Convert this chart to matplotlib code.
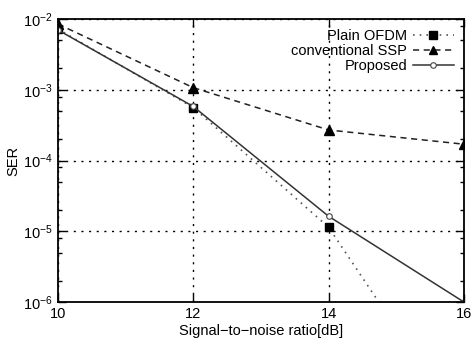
import matplotlib.pyplot as plt
from matplotlib.ticker import LogLocator, NullFormatter

plt.rcParams['font.family'] = ['Liberation Sans', 'DejaVu Sans']

snr = [10, 12, 14, 16]
ser_plain = [7.2e-3, 5.6e-4, 1.14e-5, 1.6e-8]
ser_ssp = [8.5e-3, 1.07e-3, 2.7e-4, 1.7e-4]
ser_proposed = [7.0e-3, 5.8e-4, 1.63e-5, 1.0e-6]
xticks = [10, 12, 14, 16]

fig = plt.figure(figsize=(4.71, 3.39), dpi=100)
ax = fig.add_axes([0.123, 0.109, 0.862, 0.835])

ax.semilogy(snr, ser_plain, linestyle=(0, (1, 3)), color='#555555', lw=1.2,
            marker='s', ms=6, mfc='black', mec='black', label='Plain OFDM')
ax.semilogy(snr, ser_ssp, linestyle=(0, (4, 3)), color='#222222', lw=1.1,
            marker='^', ms=6.5, mfc='black', mec='black', label='conventional SSP')
ax.semilogy(snr, ser_proposed, linestyle='-', color='#333333', lw=1.1,
            marker='o', ms=4, mfc='white', mec='#444444', mew=0.8, label='Proposed')

ax.set_xlim(10, 16)
ax.set_ylim(1e-6, 1e-2)
ax.set_xticks(xticks)
ax.yaxis.set_major_locator(LogLocator(base=10, numticks=10))
ax.yaxis.set_minor_locator(LogLocator(base=10, subs=[2, 5, 8], numticks=10))
ax.yaxis.set_minor_formatter(NullFormatter())

ax.grid(True, which='major', linestyle=(0, (1.5, 4)), color='black', lw=1.0)
ax.tick_params(which='both', direction='in', top=True, right=True,
               labelsize=10.5, width=1.0)
ax.tick_params(which='major', length=6)
ax.tick_params(which='minor', length=3)
for s in ax.spines.values():
    s.set_linewidth(1.3)

ax.set_xlabel('Signal\u2212to\u2212noise ratio[dB]', fontsize=10.5, labelpad=2)
ax.set_ylabel('SER', fontsize=10.5, labelpad=2)

leg = ax.legend(loc='upper right', markerfirst=False, frameon=False, fontsize=10.5,
                handlelength=2.8, handletextpad=0.4, labelspacing=0.05,
                borderaxespad=0.5, borderpad=0.2)
for h in leg.legend_handles:
    if h.get_marker() in ('s', '^'):
        h.set_markersize(5.5)

plt.savefig('out.png')
